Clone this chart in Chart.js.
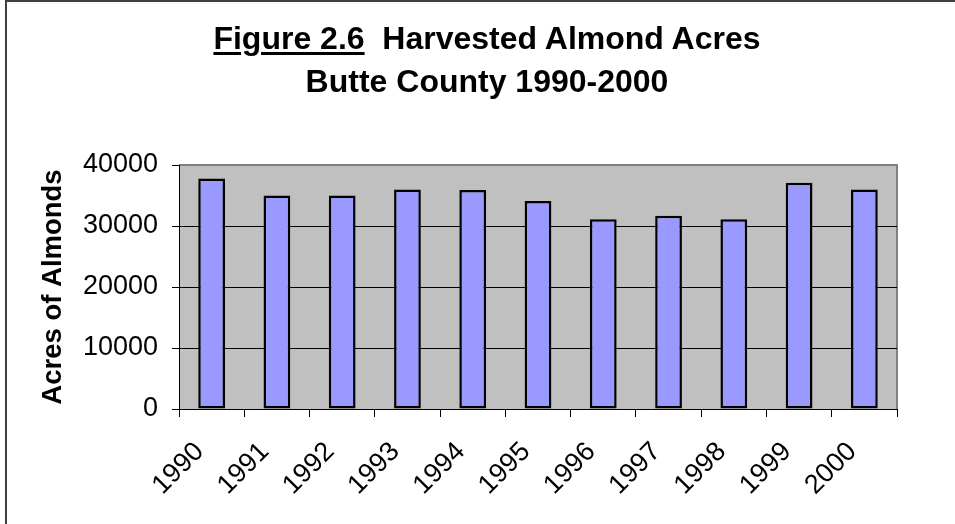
<!DOCTYPE html>
<html>
<head>
<meta charset="utf-8">
<script src="https://cdn.jsdelivr.net/npm/chart.js@4"></script>
<style>
    html, body { margin: 0; padding: 0; background: #fff; overflow: hidden; }
    #wrap { position: relative; width: 955px; height: 524px; }
    #title {
        position: absolute; left: 187px; top: 17px; width: 600px;
        text-align: center; font-family: "Liberation Sans", Arial, sans-serif;
        font-weight: bold; font-size: 32px; line-height: 43px; color: #000;
    }
    #title u { text-decoration-thickness: 3px; text-underline-offset: 3px; }
</style>
</head>
<body>
<div id="wrap">
    <canvas id="almond-bar"></canvas>
    <div id="title"><u>Figure 2.6</u>&nbsp; Harvested Almond Acres<br>Butte County 1990-2000</div>
</div>
<script>
const barDiv = document.getElementById('almond-bar')

const years = ['1990', '1991', '1992', '1993', '1994', '1995', '1996', '1997', '1998', '1999', '2000']
const acres = [37800, 35000, 35000, 36000, 35900, 34100, 31100, 31700, 31100, 37100, 36000]
const yTicks = [0, 10000, 20000, 30000, 40000]

const font = "'Liberation Sans', Arial, sans-serif"

// plot background + the old excel frame
const backdrop = {
    id: 'backdrop',
    beforeDraw(chart) {
        const { ctx, chartArea: a, width, height } = chart
        ctx.save()
        ctx.fillStyle = '#fff'
        ctx.fillRect(0, 0, width, height)
        ctx.fillStyle = '#c0c0c0'
        ctx.fillRect(a.left, a.top, a.right - a.left, a.bottom - a.top)
        ctx.strokeStyle = '#808080'
        ctx.lineWidth = 2
        ctx.beginPath()
        ctx.moveTo(a.left, a.top)
        ctx.lineTo(a.right, a.top)
        ctx.lineTo(a.right, a.bottom)
        ctx.stroke()
        ctx.strokeStyle = '#404040'
        ctx.beginPath()
        ctx.moveTo(6, height)
        ctx.lineTo(6, 1)
        ctx.lineTo(width, 1)
        ctx.stroke()
        ctx.restore()
    }
}

new Chart(barDiv, {
    type: 'bar',
    data: {
        labels: years,
        datasets: [{
            label: 'Acres',
            data: acres,
            backgroundColor: '#9999ff',
            borderColor: '#000',
            borderWidth: 2.5,
            borderSkipped: false,
            barPercentage: 0.41,
            categoryPercentage: 1
        }]
    },
    options: {
        responsive: true,
        maintainAspectRatio: false,
        animation: false,
        layout: {
            padding: { left: 20, right: 58, top: 165, bottom: 0 }
        },
        scales: {
            x: {
                grid: {
                    offset: true,
                    drawOnChartArea: false,
                    color: '#000',
                    tickLength: 8
                },
                border: { color: '#000', width: 1 },
                ticks: {
                    color: '#000',
                    font: { family: font, size: 27 },
                    maxRotation: 45,
                    minRotation: 45,
                    padding: 19,
                    labelOffset: -12
                },
                afterFit(scale) { scale.height = 115 }
            },
            y: {
                min: 0,
                max: 40000,
                afterBuildTicks(scale) { scale.ticks = yTicks.map(v => ({ value: v })) },
                grid: {
                    color: c => c.tick && c.tick.value === 40000 ? '#808080' : '#000',
                    tickColor: '#000',
                    tickLength: 7
                },
                border: { color: '#000', width: 1 },
                ticks: {
                    color: '#000',
                    font: { family: font, size: 27 },
                    padding: 14,
                    callback: v => String(v)
                },
                title: {
                    display: true,
                    text: 'Acres of Almonds',
                    color: '#000',
                    font: { family: font, size: 27.5, weight: 'bold' },
                    padding: { top: 17, bottom: 0 }
                },
                afterFit(scale) { scale.width = 159 }
            }
        },
        plugins: {
            legend: { display: false },
            tooltip: { enabled: false }
        }
    },
    plugins: [backdrop]
})
</script>
</body>
</html>
